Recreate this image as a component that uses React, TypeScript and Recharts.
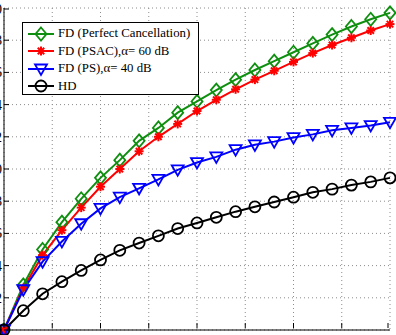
import { LineChart, Line, XAxis, YAxis, CartesianGrid, Legend } from 'recharts';

const snr = [0, 2, 4, 6, 8, 10, 12, 14, 16, 18, 20, 22, 24, 26, 28, 30, 32, 34, 36, 38, 40];
const fdPerfect = [0, 2.8, 5.0, 6.7, 8.15, 9.45, 10.55, 11.75, 12.55, 13.5, 14.2, 14.9, 15.55, 16.15, 16.7, 17.25, 17.8, 18.35, 18.85, 19.3, 19.7];
const fdPsac = [0, 2.6, 4.65, 6.2, 7.6, 8.9, 10.0, 11.1, 12.0, 12.8, 13.6, 14.3, 14.95, 15.55, 16.1, 16.65, 17.2, 17.7, 18.15, 18.6, 19.0];
const fdPs = [0, 2.5, 4.25, 5.5, 6.6, 7.55, 8.25, 8.8, 9.35, 9.95, 10.4, 10.75, 11.2, 11.5, 11.7, 11.95, 12.15, 12.4, 12.55, 12.7, 12.9];
const hd = [0, 1.2, 2.25, 3.0, 3.7, 4.35, 4.95, 5.4, 5.85, 6.3, 6.65, 7.0, 7.35, 7.65, 7.95, 8.25, 8.55, 8.75, 9.0, 9.2, 9.45];

const xTicks = [0, 5, 10, 15, 20, 25, 30, 35, 40];
const yTicks = [0, 2, 4, 6, 8, 10, 12, 14, 16, 18, 20];

const series = [
  { key: 'perfect', name: 'FD (Perfect Cancellation)', color: '#0f8f0f', marker: 'diamond' },
  { key: 'psac', name: 'FD (PSAC),\u03b1= 60 dB', color: '#ff0000', marker: 'star' },
  { key: 'ps', name: 'FD (PS),\u03b1= 40 dB', color: '#0000ff', marker: 'triangle' },
  { key: 'hd', name: 'HD', color: '#000000', marker: 'circle' },
];

const data = snr.map((x, i) => ({
  snr: x,
  perfect: fdPerfect[i],
  psac: fdPsac[i],
  ps: fdPs[i],
  hd: hd[i],
}));

const FONT = "'Liberation Serif', 'Times New Roman', serif";

function Marker({ type, cx, cy, color }: { type: string; cx: number; cy: number; color: string }) {
  if (type === 'diamond') {
    return (
      <path
        d={`M${cx},${cy - 6.5} L${cx + 5.5},${cy} L${cx},${cy + 6.5} L${cx - 5.5},${cy} Z`}
        fill="none"
        stroke={color}
        strokeWidth={1.8}
      />
    );
  }
  if (type === 'star') {
    const r = 4.5;
    const d = r * 0.72;
    return (
      <g stroke={color} strokeWidth={2}>
        <line x1={cx - r} y1={cy} x2={cx + r} y2={cy} />
        <line x1={cx} y1={cy - r} x2={cx} y2={cy + r} />
        <line x1={cx - d} y1={cy - d} x2={cx + d} y2={cy + d} />
        <line x1={cx - d} y1={cy + d} x2={cx + d} y2={cy - d} />
      </g>
    );
  }
  if (type === 'triangle') {
    return (
      <path
        d={`M${cx - 6},${cy - 4.5} L${cx + 6},${cy - 4.5} L${cx},${cy + 6} Z`}
        fill="none"
        stroke={color}
        strokeWidth={1.8}
      />
    );
  }
  return <circle cx={cx} cy={cy} r={5.5} fill="none" stroke={color} strokeWidth={1.8} />;
}

const LeftTick = (props: any) => {
  const { x, y, payload } = props;
  return (
    <g>
      <line x1={x + 2} y1={y} x2={x + 7} y2={y} stroke="#000" />
      <text x={x} y={y} dy={5} textAnchor="end" fontSize={14} fontFamily={FONT} fill="#000">
        {payload.value}
      </text>
    </g>
  );
};

const BottomTick = (props: any) => {
  const { x, y, payload } = props;
  return (
    <g>
      <line x1={x} y1={y - 2} x2={x} y2={y - 7} stroke="#000" />
      <text x={x} y={y + 18} textAnchor="middle" fontSize={14} fontFamily={FONT} fill="#000">
        {payload.value}
      </text>
    </g>
  );
};

const TopTick = (props: any) => {
  const { x, y } = props;
  return <line x1={x} y1={y} x2={x} y2={y + 5} stroke="#000" />;
};

const RightTick = (props: any) => {
  const { x, y } = props;
  return <line x1={x} y1={y} x2={x - 5} y2={y} stroke="#000" />;
};

const renderLegend = () => (
  <div
    style={{
      border: '1px solid #000',
      background: '#fff',
      width: 175,
      height: 69,
      paddingTop: 2,
      boxSizing: 'content-box',
      fontFamily: FONT,
      fontSize: 12.8,
      color: '#000',
    }}
  >
    {series.map((s) => (
      <div key={s.key} style={{ display: 'flex', alignItems: 'center', height: 17.5, paddingLeft: 5 }}>
        <svg width={26} height={16} style={{ marginRight: 4 }}>
          <line x1={0} y1={8} x2={26} y2={8} stroke={s.color} strokeWidth={2} />
          <Marker type={s.marker} cx={13} cy={8} color={s.color} />
        </svg>
        <span style={{ whiteSpace: 'nowrap' }}>{s.name}</span>
      </div>
    ))}
  </div>
);

export default function App() {
  return (
    <div
      style={{
        position: 'fixed',
        left: 0,
        top: 0,
        width: 396,
        height: 335,
        overflow: 'hidden',
        background: '#fff',
      }}
    >
      <div style={{ position: 'absolute', left: -56, top: 0 }}>
        <LineChart width={452} height={360} data={data} margin={{ top: 8, right: 6, left: 0, bottom: 0 }}>
          <CartesianGrid stroke="#8c8c8c" strokeDasharray="1 3" />
          <XAxis
            dataKey="snr"
            type="number"
            domain={[0, 40]}
            ticks={xTicks}
            height={30}
            stroke="#000"
            tickSize={0}
            tickMargin={0}
            tickLine={false}
            tick={<BottomTick />}
          />
          <XAxis
            xAxisId="top"
            orientation="top"
            type="number"
            domain={[0, 40]}
            ticks={xTicks}
            height={0}
            stroke="#000"
            tickSize={0}
            tickMargin={0}
            tickLine={false}
            tick={<TopTick />}
          />
          <YAxis
            type="number"
            domain={[0, 20]}
            ticks={yTicks}
            width={60}
            stroke="#000"
            tickSize={0}
            tickMargin={2}
            tickLine={false}
            tick={<LeftTick />}
          />
          <YAxis
            yAxisId="right"
            orientation="right"
            type="number"
            domain={[0, 20]}
            ticks={yTicks}
            width={0}
            stroke="#000"
            tickSize={0}
            tickMargin={0}
            tickLine={false}
            tick={<RightTick />}
          />
          <Legend
            layout="vertical"
            align="center"
            verticalAlign="middle"
            content={renderLegend}
            wrapperStyle={{ position: 'absolute', left: 78, top: 22, width: 'auto', height: 'auto' }}
          />
          {series.map((s) => (
            <Line
              key={s.key}
              dataKey={s.key}
              name={s.name}
              stroke={s.color}
              strokeWidth={2}
              isAnimationActive={false}
              dot={(p: any) => <Marker key={`${s.key}-${p.index}`} type={s.marker} cx={p.cx} cy={p.cy} color={s.color} />}
              activeDot={false}
            />
          ))}
        </LineChart>
      </div>
    </div>
  );
}
